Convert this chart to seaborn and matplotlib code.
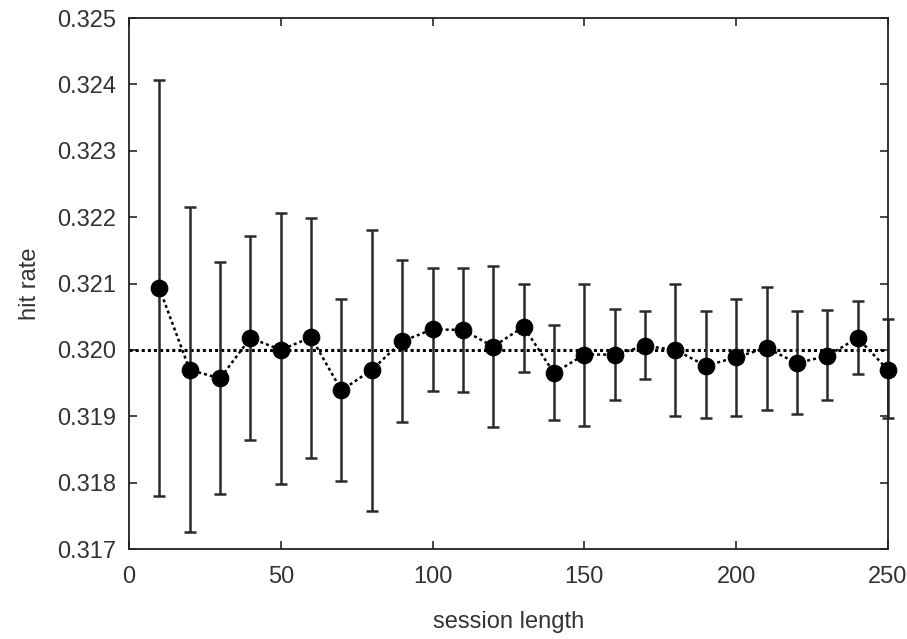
import numpy as np
import pandas as pd
import seaborn as sns
import matplotlib
matplotlib.use("Agg")
import matplotlib.pyplot as plt

# values
session_length = [10, 20, 30, 40, 50, 60, 70, 80, 90, 100, 110, 120, 130,
                  140, 150, 160, 170, 180, 190, 200, 210, 220, 230, 240, 250]
hit_rate = [0.32093, 0.31970, 0.31957, 0.32018, 0.32000, 0.32019, 0.31939,
            0.31970, 0.32013, 0.32031, 0.32030, 0.32005, 0.32035, 0.31965,
            0.31993, 0.31993, 0.32006, 0.32000, 0.31976, 0.31989, 0.32003,
            0.31980, 0.31991, 0.32018, 0.31970]
err_top = [0.32407, 0.32216, 0.32133, 0.32171, 0.32206, 0.32199, 0.32076,
           0.32180, 0.32136, 0.32123, 0.32123, 0.32126, 0.32100, 0.32038,
           0.32100, 0.32062, 0.32058, 0.32100, 0.32058, 0.32077, 0.32095,
           0.32058, 0.32060, 0.32074, 0.32047]
err_bottom = [0.31780, 0.31726, 0.31783, 0.31865, 0.31798, 0.31837, 0.31802,
              0.31758, 0.31891, 0.31938, 0.31936, 0.31884, 0.31966, 0.31895,
              0.31886, 0.31925, 0.31956, 0.31900, 0.31897, 0.31901, 0.31909,
              0.31903, 0.31925, 0.31964, 0.31898]
reference_rate = 0.320

df = pd.DataFrame({"session length": session_length, "hit rate": hit_rate})

sns.set_style("ticks")
plt.rcParams['font.family'] = ['Liberation Sans', 'DejaVu Sans']

fig = plt.figure(figsize=(9.07, 6.39), dpi=100)
ax = fig.add_axes([0.1422, 0.1408, 0.9790 - 0.1422, 0.9718 - 0.1408])

# error bars behind the markers
yerr = [np.array(hit_rate) - np.array(err_bottom),
        np.array(err_top) - np.array(hit_rate)]
eb = ax.errorbar(session_length, hit_rate, yerr=yerr, fmt="none",
                 ecolor="#2a2a2a", elinewidth=1.8, capsize=4.5, capthick=1.8,
                 zorder=2)
for part in eb.lines[1] + eb.lines[2]:
    part.set_clip_on(False)

ax.axhline(reference_rate, color="black", linestyle=(0, (1, 1)),
           linewidth=2.2, zorder=1)

sns.lineplot(data=df, x="session length", y="hit rate", ax=ax,
             color="black", linestyle=(0, (1.2, 1.2)), linewidth=1.8,
             marker="o", markersize=12, markeredgecolor="black",
             markerfacecolor="black", zorder=3, clip_on=False)

ax.set_xlim(0, 250)
ax.set_ylim(0.317, 0.325)
ax.set_xticks([0, 50, 100, 150, 200, 250])
ax.set_yticks(np.arange(0.317, 0.3251, 0.001))
ax.set_yticklabels([f"{v:.3f}" for v in np.arange(0.317, 0.3251, 0.001)])

ax.tick_params(direction="in", top=True, right=True, length=6, width=1.2,
               labelsize=17, labelcolor="#333333")
ax.tick_params(axis="x", pad=12)
ax.tick_params(axis="y", pad=9)
for s in ax.spines.values():
    s.set_linewidth(1.3)
    s.set_color("#222222")

ax.set_xlabel("session length", fontsize=17, color="#333333", labelpad=17)
ax.set_ylabel("hit rate", fontsize=17, color="#333333", labelpad=12)

fig.savefig("out.png", dpi=100)
